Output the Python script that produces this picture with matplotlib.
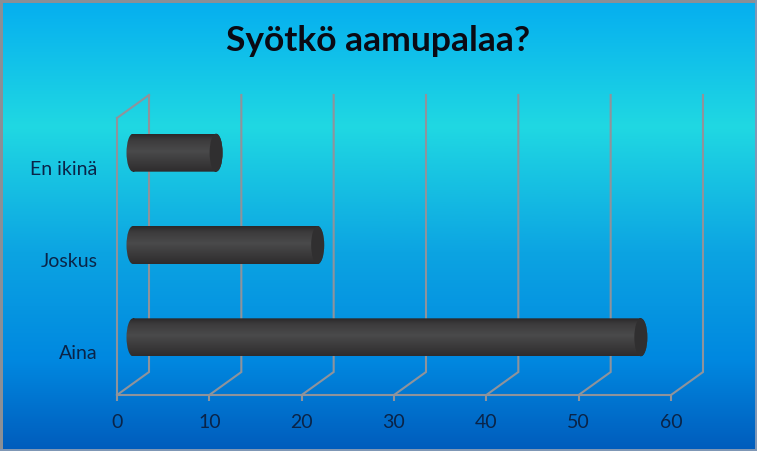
import numpy as np
import matplotlib
matplotlib.use("Agg")
import matplotlib.pyplot as plt
from matplotlib.colors import LinearSegmentedColormap
from matplotlib.patches import Ellipse, PathPatch, Rectangle
from matplotlib.path import Path
from matplotlib.transforms import ScaledTranslation, Affine2D

categories = ["Aina", "Joskus", "En ikinä"]
values = [55, 20, 9]
x_ticks = [0, 10, 20, 30, 40, 50, 60]
title = "Syötkö aamupalaa?"

W, H = 757, 451
plt.rcParams["font.family"] = ["Lato", "DejaVu Sans"]
fig = plt.figure(figsize=(W / 100, H / 100), dpi=100)

# background gradient
bg = fig.add_axes([0, 0, 1, 1], zorder=0)
bg_cmap = LinearSegmentedColormap.from_list("bg", [
    (0.00, "#05aef0"), (0.28, "#20d8e2"), (0.56, "#0ca4e2"),
    (0.80, "#0088e0"), (1.00, "#005cbc")])
bg.imshow(np.linspace(0, 1, 256)[:, None], cmap=bg_cmap, aspect="auto", extent=(0, 1, 0, 1))
bg.set_xlim(0, 1); bg.set_ylim(0, 1); bg.axis("off")
for xy, w, h, c in [((0, 0), 2.5 / W, 1, "#8a8f96"), ((0, 1 - 2.5 / H), 1, 2.5 / H, "#8a8f96"),
                    ((1 - 2 / W, 0), 2 / W, 1, "#7f97b5"), ((0, 0), 1, 2 / H, "#7f97b5")]:
    bg.add_patch(Rectangle(xy, w, h, color=c, lw=0))

# plot box in pixels
x0, x1, ytop, ybot = 117, 671, 118, 395
ax = fig.add_axes([x0 / W, 1 - ybot / H, (x1 - x0) / W, (ybot - ytop) / H], zorder=1)
ax.patch.set_visible(False)
ax.set_xlim(0, 60); ax.set_ylim(0, 3)
px_x = (x1 - x0) / 60
px_y = (ybot - ytop) / 3
dx, dy = 32 / px_x, 23 / px_y

GRID = "#8f939b"
lw = 1.5
for t in x_ticks:
    ax.plot([t, t + dx, t + dx], [0, dy, 3 + dy], color=GRID, lw=lw, clip_on=False, zorder=1, solid_joinstyle="miter")
ax.plot([0, dx], [3, 3 + dy], color=GRID, lw=lw, clip_on=False, zorder=1)

for s in ["top", "right"]:
    ax.spines[s].set_visible(False)
for s in ["left", "bottom"]:
    ax.spines[s].set_color(GRID)
    ax.spines[s].set_linewidth(lw)
    ax.spines[s].set_zorder(1)

ax.set_xticks(x_ticks)
ax.set_yticks(np.arange(len(categories)) + 0.5, categories)
TXT = "#0a2448"
ax.tick_params(axis="x", length=4.5, width=lw, color=GRID, labelcolor=TXT, labelsize=14, pad=9)
ax.tick_params(axis="y", length=0, labelcolor=TXT, labelsize=14, pad=14)
shift = ScaledTranslation(0, -2.5 / 72, fig.dpi_scale_trans)
for lab in ax.get_yticklabels():
    lab.set_transform(lab.get_transform() + shift)

# cylinders
cyl_cmap = LinearSegmentedColormap.from_list("cyl", [
    (0.0, "#2e2c2d"), (0.55, "#4a4a4b"), (0.85, "#3c3b3c"), (1.0, "#2a2829")])
bar_h = 38 / px_y
cap_w = 13 / px_x
for i, v in enumerate(values):
    yc = i + 0.5 + dy / 2
    xs = dx / 2
    rect = Path.unit_rectangle().transformed(Affine2D().scale(v, bar_h).translate(xs, yc - bar_h / 2))
    circ = Path.unit_circle().transformed(Affine2D().scale(cap_w / 2, bar_h / 2))
    left = circ.transformed(Affine2D().translate(xs, yc))
    right = circ.transformed(Affine2D().translate(xs + v, yc))
    body = Path.make_compound_path(rect, left, right)
    clip = PathPatch(body, transform=ax.transData, fc="none", ec="none")
    ax.add_patch(clip)
    clip.set_clip_on(False)
    im = ax.imshow(np.linspace(1, 0, 128)[:, None], cmap=cyl_cmap, aspect="auto", zorder=3,
                   extent=(xs - cap_w, xs + v + cap_w, yc - bar_h / 2, yc + bar_h / 2))
    im.set_clip_path(clip)
    ax.add_patch(Ellipse((xs + v, yc), cap_w, bar_h, fc="#302f30", ec="none", zorder=4, clip_on=False))
ax.set_xlim(0, 60); ax.set_ylim(0, 3); ax.set_aspect("auto")

fig.text(378 / W, 1 - 41 / H, title, ha="center", va="center", fontsize=25.5, fontweight="bold", color="#0a0a14")

fig.savefig("out.png", dpi=100)
